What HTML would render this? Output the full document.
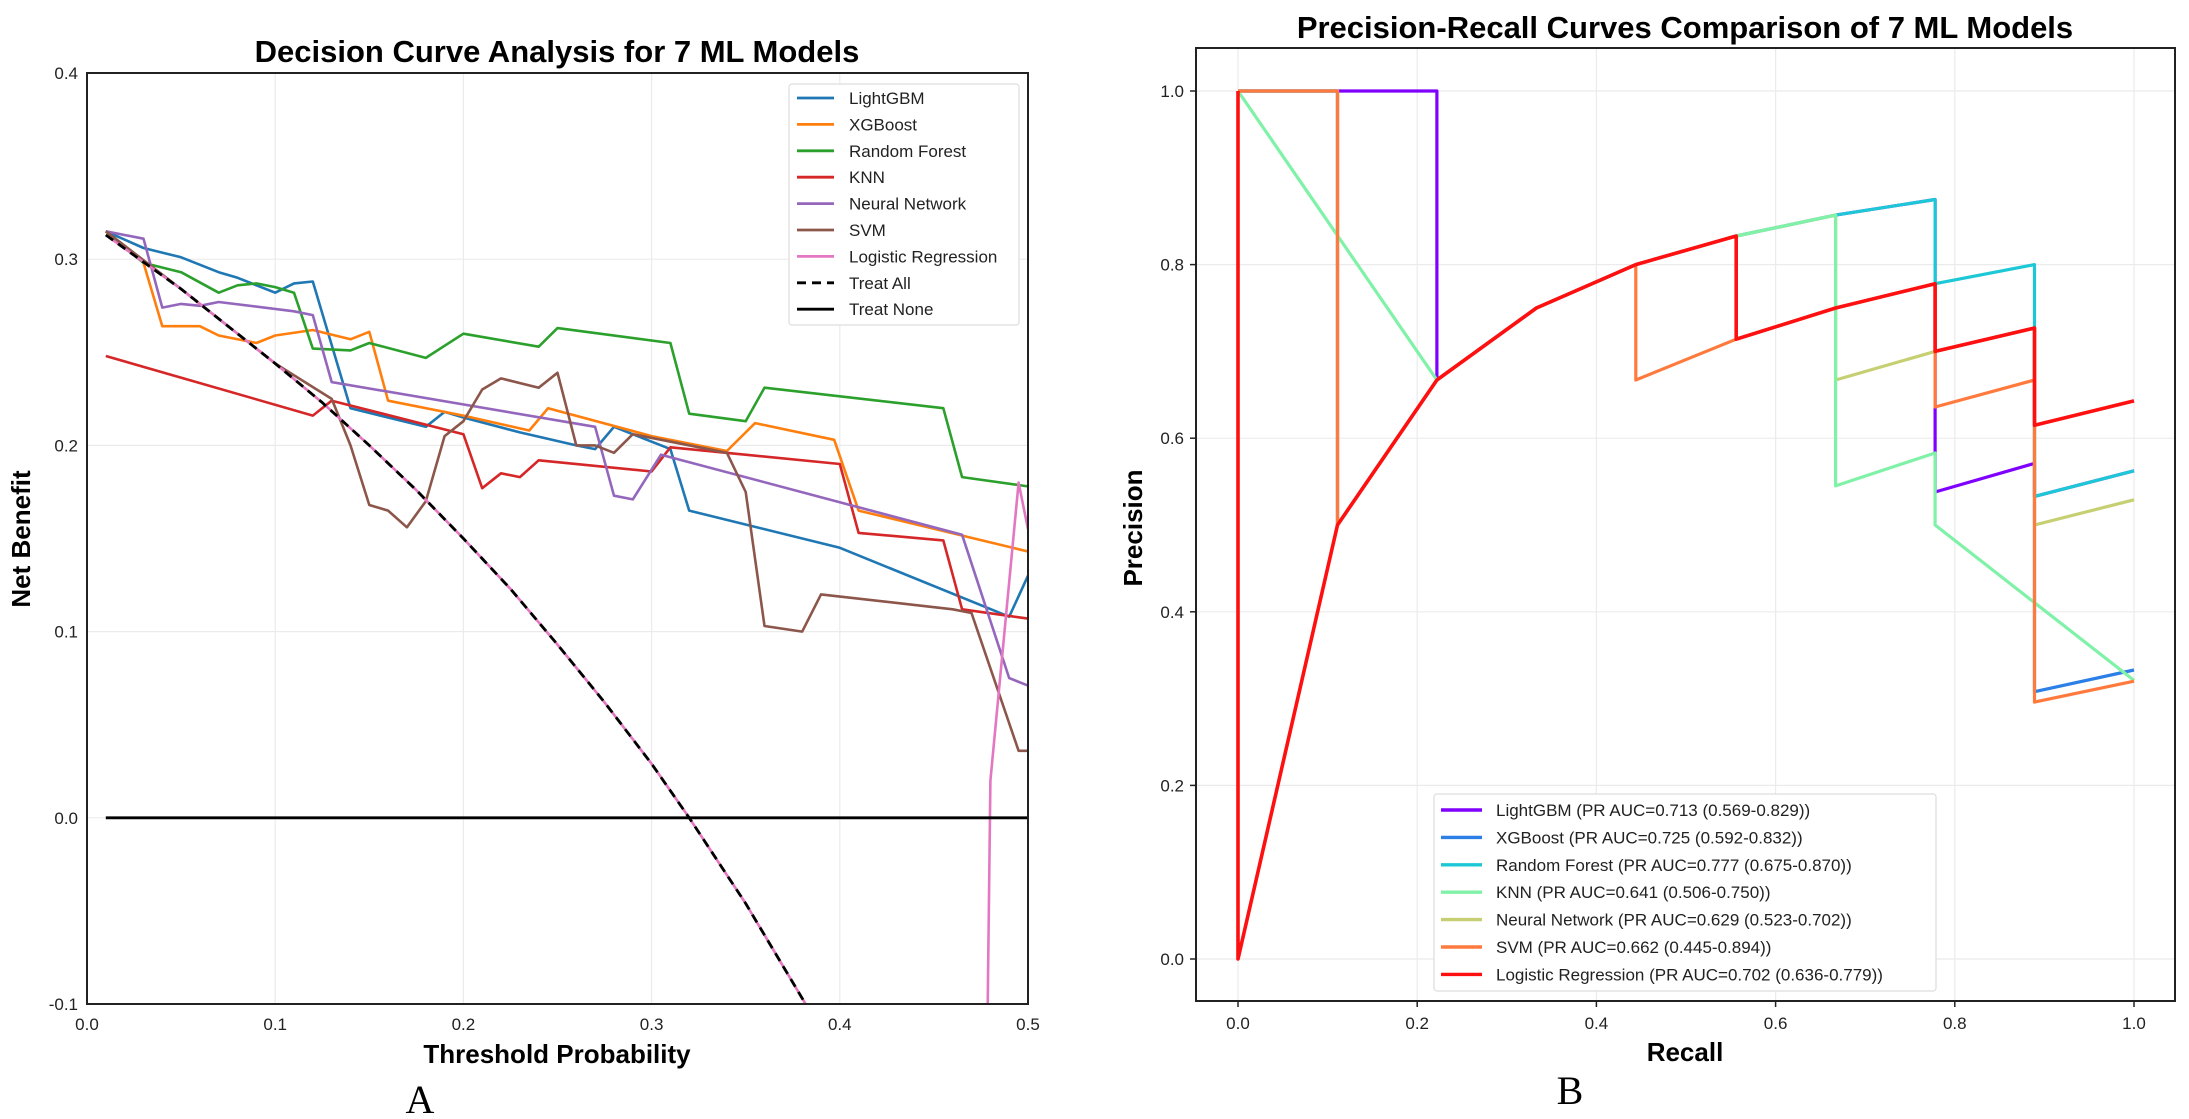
<!DOCTYPE html>
<html><head><meta charset="utf-8"><style>
html,body{margin:0;padding:0;background:#fff;}
svg{display:block;font-family:"Liberation Sans",Arial,sans-serif;}
</style></head><body>
<svg id="fig" width="2189" height="1119" viewBox="0 0 2189 1119" xmlns="http://www.w3.org/2000/svg">
<defs>
<clipPath id="clipA"><rect x="87" y="73" width="941" height="931"/></clipPath>
<clipPath id="clipB"><rect x="1196" y="48" width="979" height="953"/></clipPath>
</defs>
<g id="panelA"></g>
<g id="panelB"></g>
</svg>
<script>
// ===== Panel A data (Decision Curve Analysis) =====
const dcaXTicks = [0.0, 0.1, 0.2, 0.3, 0.4, 0.5];
const dcaYTicks = [-0.1, 0.0, 0.1, 0.2, 0.3, 0.4];
const dcaNames = ["LightGBM","XGBoost","Random Forest","KNN","Neural Network","SVM","Logistic Regression"];
const lgbX = [0.01,0.03,0.05,0.07,0.08,0.1,0.11,0.12,0.14,0.18,0.19,0.2,0.23,0.26,0.27,0.28,0.31,0.32,0.4,0.49,0.5];
const lgbY = [0.315,0.306,0.301,0.293,0.290,0.282,0.287,0.288,0.22,0.21,0.218,0.215,0.207,0.2,0.198,0.21,0.198,0.165,0.145,0.108,0.13];
const xgbX = [0.01,0.03,0.04,0.06,0.07,0.09,0.1,0.12,0.14,0.15,0.16,0.2,0.235,0.245,0.3,0.34,0.355,0.397,0.41,0.5];
const xgbY = [0.315,0.298,0.264,0.264,0.259,0.255,0.259,0.262,0.257,0.261,0.224,0.216,0.208,0.22,0.205,0.197,0.212,0.203,0.165,0.143];
const rfX = [0.01,0.03,0.05,0.07,0.08,0.09,0.1,0.11,0.12,0.14,0.15,0.18,0.2,0.24,0.25,0.31,0.32,0.35,0.36,0.455,0.465,0.5];
const rfY = [0.315,0.298,0.293,0.282,0.286,0.287,0.285,0.282,0.252,0.251,0.255,0.247,0.26,0.253,0.263,0.255,0.217,0.213,0.231,0.22,0.183,0.178];
const knnX = [0.01,0.12,0.13,0.2,0.21,0.22,0.23,0.24,0.30,0.31,0.4,0.41,0.455,0.465,0.5];
const knnY = [0.248,0.216,0.224,0.206,0.177,0.185,0.183,0.192,0.186,0.199,0.19,0.153,0.149,0.112,0.107];
const nnX = [0.01,0.03,0.04,0.05,0.06,0.07,0.11,0.12,0.13,0.27,0.28,0.29,0.305,0.465,0.49,0.5];
const nnY = [0.315,0.311,0.274,0.276,0.275,0.277,0.272,0.27,0.234,0.21,0.173,0.171,0.195,0.152,0.075,0.071];
const svmX = [0.01,0.05,0.1,0.13,0.14,0.15,0.16,0.17,0.18,0.19,0.2,0.21,0.22,0.24,0.25,0.26,0.27,0.28,0.29,0.34,0.35,0.36,0.38,0.39,0.46,0.47,0.495,0.5];
const svmY = [0.315,0.284,0.244,0.225,0.20,0.168,0.165,0.156,0.17,0.205,0.213,0.23,0.236,0.231,0.239,0.2,0.2,0.196,0.206,0.196,0.175,0.103,0.1,0.12,0.112,0.11,0.036,0.036];
const lrX = [0.01,0.05,0.1,0.125,0.15,0.175,0.2,0.225,0.25,0.275,0.3,0.32,0.35,0.383,0.478,0.48,0.495,0.5];
const lrY = [0.313,0.284,0.244,0.223,0.200,0.176,0.150,0.123,0.093,0.062,0.029,0.0,-0.046,-0.102,-0.15,0.02,0.18,0.155];
const allX = [0.01,0.05,0.1,0.125,0.15,0.175,0.2,0.225,0.25,0.275,0.3,0.32,0.35,0.383];
const allY = [0.313,0.284,0.244,0.223,0.200,0.176,0.150,0.123,0.093,0.062,0.029,0.0,-0.046,-0.102];
const noneX = [0.01,0.5];
const noneY = [0.0,0.0];

// ===== Panel B data (Precision-Recall) =====
const prXTicks = [0.0,0.2,0.4,0.6,0.8,1.0];
const prYTicks = [0.0,0.2,0.4,0.6,0.8,1.0];
const prLabels = ["LightGBM (PR AUC=0.713 (0.569-0.829))","XGBoost (PR AUC=0.725 (0.592-0.832))","Random Forest (PR AUC=0.777 (0.675-0.870))","KNN (PR AUC=0.641 (0.506-0.750))","Neural Network (PR AUC=0.629 (0.523-0.702))","SVM (PR AUC=0.662 (0.445-0.894))","Logistic Regression (PR AUC=0.702 (0.636-0.779))"];
const prLgbR = [0,0.222,0.222,0.333,0.444,0.556,0.667,0.778,0.778,0.778,0.889,0.889,1.0];
const prLgbP = [1,1,0.667,0.75,0.8,0.833,0.857,0.875,0.583,0.538,0.571,0.533,0.5625];
const prXgbR = [0,0.111,0.111,0.222,0.333,0.444,0.556,0.556,0.667,0.778,0.778,0.889,0.889,1.0];
const prXgbP = [1,1,0.5,0.667,0.75,0.8,0.833,0.714,0.75,0.778,0.7,0.727,0.308,0.333];
const prRfR = [0,0.111,0.111,0.222,0.333,0.444,0.556,0.667,0.778,0.778,0.889,0.889,1.0];
const prRfP = [1,1,0.5,0.667,0.75,0.8,0.833,0.857,0.875,0.778,0.8,0.533,0.5625];
const prNnR = [0,0.111,0.111,0.222,0.333,0.444,0.556,0.667,0.667,0.778,0.889,0.889,1.0];
const prNnP = [1,1,0.5,0.667,0.75,0.8,0.833,0.857,0.667,0.7,0.727,0.5,0.529];
const prKnnR = [0,0.222,0.333,0.444,0.556,0.667,0.667,0.778,0.778,1.0];
const prKnnP = [1,0.667,0.75,0.8,0.833,0.857,0.545,0.583,0.5,0.321];
const prSvmR = [0,0.111,0.111,0.222,0.333,0.444,0.444,0.556,0.667,0.778,0.778,0.889,0.889,1.0];
const prSvmP = [1,1,0.5,0.667,0.75,0.8,0.667,0.714,0.75,0.778,0.636,0.667,0.296,0.32];
const prLrR = [0,0,0.111,0.222,0.333,0.444,0.556,0.556,0.667,0.778,0.778,0.889,0.889,1.0];
const prLrP = [1,0,0.5,0.667,0.75,0.8,0.833,0.714,0.75,0.778,0.7,0.727,0.615,0.643];

const NS = "http://www.w3.org/2000/svg";
function mk(tag, attrs, parent){const e=document.createElementNS(NS,tag);for(const k in attrs)e.setAttribute(k,attrs[k]);parent.appendChild(e);return e;}
function pts(xs,ys,fx,fy){return xs.map((v,i)=>fx(v).toFixed(1)+","+fy(ys[i]).toFixed(1)).join(" ");}

// ---------- Panel A ----------
const A = document.getElementById("panelA");
const ax = v => 87 + (v-0)/0.5*941;
const ay = v => 73 + (0.4-v)/0.5*931;
dcaXTicks.forEach(t=>{
  const g=mk("line",{x1:ax(t),x2:ax(t),y1:73,y2:1004,stroke:"#ebebeb","stroke-width":1.2},A);
  
  
  const tx=mk("text",{x:ax(t),y:1030,"font-size":17,"text-anchor":"middle",fill:"#222"},A);
  tx.textContent=t.toFixed(1);
  
  
});
dcaYTicks.forEach(t=>{
  const g=mk("line",{x1:87,x2:1028,y1:ay(t),y2:ay(t),stroke:"#ebebeb","stroke-width":1.2},A);
  
  
  const tx=mk("text",{x:78,y:ay(t)+6,"font-size":17,"text-anchor":"end",fill:"#222"},A);
  tx.textContent=t.toFixed(1);
  
  
});
const dcaSeries = [
  [lgbX,lgbY,"#1f77b4",2.6,null],
  [xgbX,xgbY,"#ff7f0e",2.6,null],
  [rfX,rfY,"#2ca02c",2.6,null],
  [knnX,knnY,"#d62728",2.6,null],
  [nnX,nnY,"#9467bd",2.6,null],
  [svmX,svmY,"#8c564b",2.6,null],
  [lrX,lrY,"#e377c2",2.6,null],
  [allX,allY,"#000",2.8,"9,6"],
  [noneX,noneY,"#000",2.8,null]
];
const dcaSeriesNames=["lightgbm-line","xgboost-line","random-forest-line","knn-line","neural-network-line","svm-line","logistic-regression-line","treat-all-line","treat-none-line"];
const gA = mk("g",{"clip-path":"url(#clipA)"},A);
dcaSeries.forEach((s,i)=>{
  const p=mk("polyline",{points:pts(s[0],s[1],ax,ay),fill:"none",stroke:s[2],"stroke-width":s[3],"stroke-linejoin":"round"},gA);
  if(s[4]) p.setAttribute("stroke-dasharray",s[4]);
  
  
});
const frA=mk("rect",{x:87,y:73,width:941,height:931,fill:"none",stroke:"#222","stroke-width":2},A);


const legA=mk("g",{},A);


mk("rect",{x:789,y:84,width:230,height:241,fill:"#fff",stroke:"#ddd","stroke-width":1.2,rx:3},legA);
const legAEntries=dcaNames.concat(["Treat All","Treat None"]);
legAEntries.forEach((n,i)=>{
  const y=98+i*26.4;
  const s=dcaSeries[i];
  const l=mk("line",{x1:797,x2:834,y1:y,y2:y,stroke:s[2],"stroke-width":2.8},legA);
  if(s[4]) l.setAttribute("stroke-dasharray","9,6");
  const t=mk("text",{x:849,y:y+6,"font-size":17,fill:"#222"},legA);
  t.textContent=n;
  
  
});
(function(){
  let t=mk("text",{x:557,y:62,"font-size":31,"font-weight":"bold","text-anchor":"middle",fill:"#000"},A);
  t.textContent="Decision Curve Analysis for 7 ML Models";
  
  
  t=mk("text",{x:557,y:1063,"font-size":26,"font-weight":"bold","text-anchor":"middle",fill:"#000"},A);
  t.textContent="Threshold Probability";
  
  
  t=mk("text",{x:30,y:539,"font-size":26,"font-weight":"bold","text-anchor":"middle",fill:"#000",transform:"rotate(-90 30 539)"},A);
  t.textContent="Net Benefit";
  
  
  t=mk("text",{x:420,y:1113,"font-size":40,"text-anchor":"middle",fill:"#000","font-family":"Liberation Serif, serif"},A);
  t.textContent="A";
  
  
})();

// ---------- Panel B ----------
const B = document.getElementById("panelB");
const bx = v => 1238 + v*896;
const by = v => 959 - v*868;
prXTicks.forEach(t=>{
  const g=mk("line",{x1:bx(t),x2:bx(t),y1:48,y2:1001,stroke:"#ebebeb","stroke-width":1.2},B);
  
  
  mk("line",{x1:bx(t),x2:bx(t),y1:1001,y2:1007,stroke:"#222","stroke-width":1.5},B);
  const tx=mk("text",{x:bx(t),y:1029,"font-size":17,"text-anchor":"middle",fill:"#222"},B);
  tx.textContent=t.toFixed(1);
  
  
});
prYTicks.forEach(t=>{
  const g=mk("line",{x1:1196,x2:2175,y1:by(t),y2:by(t),stroke:"#ebebeb","stroke-width":1.2},B);
  
  
  mk("line",{x1:1190,x2:1196,y1:by(t),y2:by(t),stroke:"#222","stroke-width":1.5},B);
  const tx=mk("text",{x:1184,y:by(t)+6,"font-size":17,"text-anchor":"end",fill:"#222"},B);
  tx.textContent=t.toFixed(1);
  
  
});
const prSeries=[
  [prLgbR,prLgbP,"#8000ff",3.2],
  [prXgbR,prXgbP,"#2c7fe6",3.2],
  [prRfR,prRfP,"#1cc8d6",3.2],
  [prNnR,prNnP,"#c6cf72",3.2],
  [prKnnR,prKnnP,"#80f2a8",3.2],
  [prSvmR,prSvmP,"#ff7a3c",3.2],
  [prLrR,prLrP,"#ff1010",3.6]
];
const prLegendColors=["#8000ff","#2c7fe6","#1cc8d6","#80f2a8","#c6cf72","#ff7a3c","#ff1010"];
const prSeriesNames=["pr-lightgbm-line","pr-xgboost-line","pr-random-forest-line","pr-neural-network-line","pr-knn-line","pr-svm-line","pr-logistic-regression-line"];
const gB=mk("g",{"clip-path":"url(#clipB)"},B);
prSeries.forEach((s,i)=>{
  const p=mk("polyline",{points:pts(s[0],s[1],bx,by),fill:"none",stroke:s[2],"stroke-width":s[3],"stroke-linejoin":"round"},gB);
  
  
});
const frB=mk("rect",{x:1196,y:48,width:979,height:953,fill:"none",stroke:"#222","stroke-width":2},B);


const legB=mk("g",{},B);


mk("rect",{x:1434,y:794,width:502,height:197,fill:"#fff",stroke:"#ddd","stroke-width":1.2,rx:3},legB);
prLabels.forEach((n,i)=>{
  const y=810+i*27.4;
  mk("line",{x1:1441,x2:1482,y1:y,y2:y,stroke:prLegendColors[i],"stroke-width":3.4},legB);
  const t=mk("text",{x:1496,y:y+6,"font-size":17,fill:"#222"},legB);
  t.textContent=n;
  
  
});
(function(){
  let t=mk("text",{x:1685,y:38,"font-size":31,"font-weight":"bold","text-anchor":"middle",fill:"#000"},B);
  t.textContent="Precision-Recall Curves Comparison of 7 ML Models";
  
  
  t=mk("text",{x:1685,y:1061,"font-size":26,"font-weight":"bold","text-anchor":"middle",fill:"#000"},B);
  t.textContent="Recall";
  
  
  t=mk("text",{x:1142,y:528,"font-size":26,"font-weight":"bold","text-anchor":"middle",fill:"#000",transform:"rotate(-90 1142 528)"},B);
  t.textContent="Precision";
  
  
  t=mk("text",{x:1570,y:1104,"font-size":40,"text-anchor":"middle",fill:"#000","font-family":"Liberation Serif, serif"},B);
  t.textContent="B";
  
  
})();
</script>
</body></html>
